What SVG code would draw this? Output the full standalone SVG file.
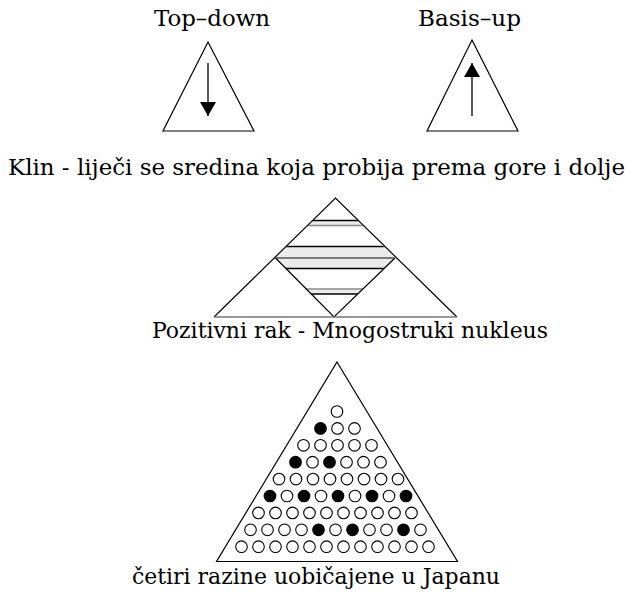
<svg xmlns="http://www.w3.org/2000/svg" width="631" height="596" viewBox="0 0 631 596">
<style>
text{font-family:"DejaVu Serif","Liberation Serif",serif;font-size:22px;fill:#000}
.tri{fill:none;stroke:#000;stroke-width:1.2}
.arr{stroke:#000;stroke-width:1.3;fill:none}
.w{fill:#fff;stroke:#000;stroke-width:1.1}
.b{fill:#000;stroke:#000;stroke-width:1.1}
.band{fill:#ebebeb}
.lk{stroke:#000;stroke-width:1.3}
.lg{stroke:#8a8a8a;stroke-width:1.4}
</style>
<defs>
<marker id="ah" markerUnits="userSpaceOnUse" markerWidth="16" markerHeight="16" refX="14" refY="8" orient="auto">
<path d="M0,0 L14,8 L0,16 Z" fill="#000"/>
</marker>
<clipPath id="dia"><polygon points="335.5,198 395,258 334,317 275.5,258"/></clipPath>
</defs>
<rect width="631" height="596" fill="#fff"/>

<g id="top-down">
<text x="154" y="26" textLength="116" lengthAdjust="spacingAndGlyphs">Top–down</text>
<polygon class="tri" points="208,42 254,131 163,131"/>
</g>
<g id="basis-up">
<text x="418" y="26" textLength="103" lengthAdjust="spacingAndGlyphs">Basis–up</text>
<polygon class="tri" points="472,40 518,131 427,131"/>
</g>

<g id="connectors">
<line class="arr" x1="208" y1="63" x2="208" y2="116" marker-end="url(#ah)"/>
<line class="arr" x1="472" y1="116" x2="472" y2="63" marker-end="url(#ah)"/>
</g>

<g id="klin-caption">
<text x="8" y="175" textLength="617" lengthAdjust="spacingAndGlyphs">Klin - liječi se sredina koja probija prema gore i dolje</text>
</g>

<g id="klin">
<g clip-path="url(#dia)">
<rect class="band" x="270" y="220.5" width="130" height="5"/>
<rect class="band" x="270" y="246.5" width="130" height="22"/>
<rect class="band" x="270" y="289" width="130" height="5"/>
<line class="lk" x1="270" y1="220.5" x2="400" y2="220.5"/>
<line class="lg" x1="270" y1="225.5" x2="400" y2="225.5"/>
<line class="lk" x1="270" y1="246.5" x2="400" y2="246.5"/>
<line class="lg" x1="270" y1="258" x2="400" y2="258" style="stroke:#555"/>
<line class="lk" x1="270" y1="268.5" x2="400" y2="268.5"/>
<line class="lg" x1="270" y1="289" x2="400" y2="289"/>
<line class="lk" x1="270" y1="294" x2="400" y2="294"/>
</g>
<polyline class="tri" points="214,317 335.5,198 457,317"/>
<polyline class="tri" points="275.5,258 334,317 395,258"/>
<line x1="214" y1="317" x2="457" y2="317" stroke="#777" stroke-width="1.6"/>
</g>

<g id="pozitivni-caption">
<text x="152" y="338" textLength="396" lengthAdjust="spacingAndGlyphs">Pozitivni rak - Mnogostruki nukleus</text>
</g>

<g id="japan-pyramid">
<polygon class="tri" points="337,362 457.5,561.5 216.5,561.5"/>
<circle class="w" cx="337" cy="411.5" r="5.8"/>
<circle class="b" cx="320.5" cy="428.4" r="5.8"/><circle class="w" cx="337.5" cy="428.4" r="5.8"/><circle class="w" cx="354.5" cy="428.4" r="5.8"/>
<circle class="w" cx="303.5" cy="445.3" r="5.8"/><circle class="w" cx="320.5" cy="445.3" r="5.8"/><circle class="w" cx="337.5" cy="445.3" r="5.8"/><circle class="w" cx="354.5" cy="445.3" r="5.8"/><circle class="w" cx="371.5" cy="445.3" r="5.8"/>
<circle class="b" cx="295.5" cy="462.2" r="5.8"/><circle class="w" cx="312.5" cy="462.2" r="5.8"/><circle class="b" cx="329.5" cy="462.2" r="5.8"/><circle class="w" cx="346.5" cy="462.2" r="5.8"/><circle class="w" cx="363.5" cy="462.2" r="5.8"/><circle class="w" cx="380.5" cy="462.2" r="5.8"/>
<circle class="w" cx="279" cy="479.1" r="5.8"/><circle class="w" cx="296" cy="479.1" r="5.8"/><circle class="w" cx="313" cy="479.1" r="5.8"/><circle class="w" cx="330" cy="479.1" r="5.8"/><circle class="w" cx="347" cy="479.1" r="5.8"/><circle class="w" cx="364" cy="479.1" r="5.8"/><circle class="w" cx="381" cy="479.1" r="5.8"/><circle class="w" cx="398" cy="479.1" r="5.8"/>
<circle class="b" cx="270" cy="496" r="5.8"/><circle class="w" cx="287" cy="496" r="5.8"/><circle class="b" cx="304" cy="496" r="5.8"/><circle class="w" cx="321" cy="496" r="5.8"/><circle class="b" cx="338" cy="496" r="5.8"/><circle class="w" cx="355" cy="496" r="5.8"/><circle class="b" cx="372" cy="496" r="5.8"/><circle class="w" cx="389" cy="496" r="5.8"/><circle class="b" cx="406" cy="496" r="5.8"/>
<circle class="w" cx="258.5" cy="512.9" r="5.8"/><circle class="w" cx="275.5" cy="512.9" r="5.8"/><circle class="w" cx="292.5" cy="512.9" r="5.8"/><circle class="w" cx="309.5" cy="512.9" r="5.8"/><circle class="w" cx="326.5" cy="512.9" r="5.8"/><circle class="w" cx="343.5" cy="512.9" r="5.8"/><circle class="w" cx="360.5" cy="512.9" r="5.8"/><circle class="w" cx="377.5" cy="512.9" r="5.8"/><circle class="w" cx="394.5" cy="512.9" r="5.8"/><circle class="w" cx="411.5" cy="512.9" r="5.8"/>
<circle class="w" cx="250.5" cy="529.8" r="5.8"/><circle class="w" cx="267.5" cy="529.8" r="5.8"/><circle class="w" cx="284.5" cy="529.8" r="5.8"/><circle class="w" cx="301.5" cy="529.8" r="5.8"/><circle class="b" cx="318.5" cy="529.8" r="5.8"/><circle class="w" cx="335.5" cy="529.8" r="5.8"/><circle class="b" cx="352.5" cy="529.8" r="5.8"/><circle class="w" cx="369.5" cy="529.8" r="5.8"/><circle class="w" cx="386.5" cy="529.8" r="5.8"/><circle class="b" cx="403.5" cy="529.8" r="5.8"/><circle class="w" cx="420.5" cy="529.8" r="5.8"/>
<circle class="w" cx="241.5" cy="546.7" r="5.8"/><circle class="w" cx="258.5" cy="546.7" r="5.8"/><circle class="w" cx="275.5" cy="546.7" r="5.8"/><circle class="w" cx="292.5" cy="546.7" r="5.8"/><circle class="w" cx="309.5" cy="546.7" r="5.8"/><circle class="w" cx="326.5" cy="546.7" r="5.8"/><circle class="w" cx="343.5" cy="546.7" r="5.8"/><circle class="w" cx="360.5" cy="546.7" r="5.8"/><circle class="w" cx="377.5" cy="546.7" r="5.8"/><circle class="w" cx="394.5" cy="546.7" r="5.8"/><circle class="w" cx="411.5" cy="546.7" r="5.8"/><circle class="w" cx="428.5" cy="546.7" r="5.8"/>
</g>

<g id="japan-caption">
<text x="132" y="584" textLength="368" lengthAdjust="spacingAndGlyphs">četiri razine uobičajene u Japanu</text>
</g>
</svg>
